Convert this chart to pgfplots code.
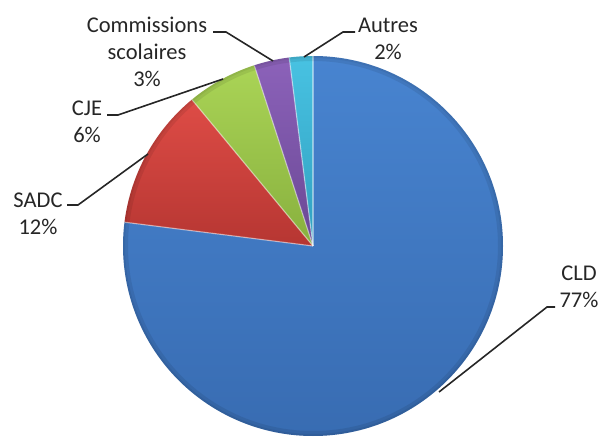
\documentclass[border=0pt]{standalone}
\usepackage{pgfplots}
\pgfplotsset{compat=1.18}
\usepackage{fontspec}
\setmainfont{Carlito}
\definecolor{cldT}{RGB}{72,132,208}
\definecolor{cldB}{RGB}{56,108,178}
\definecolor{sadcT}{RGB}{222,76,70}
\definecolor{sadcB}{RGB}{182,54,50}
\definecolor{cjeT}{RGB}{170,212,86}
\definecolor{cjeB}{RGB}{136,176,62}
\definecolor{comT}{RGB}{140,98,186}
\definecolor{comB}{RGB}{106,72,148}
\definecolor{autT}{RGB}{72,194,226}
\definecolor{autB}{RGB}{48,160,192}
\begin{document}
\begin{tikzpicture}
\begin{axis}[scale only axis, width=603pt, height=437pt,
  xmin=0, xmax=603, ymin=0, ymax=437, hide axis, clip=false]
\path (rel axis cs:0,0) rectangle (rel axis cs:1,1);
% shares (%): CLD 77, SADC 12, CJE 6, Commissions scolaires 3, Autres 2
\shade[top color=cldT, bottom color=cldB] (axis cs:313,191) -- ++(90:190pt) arc[start angle=90, end angle={90-3.6*77}, radius=190pt] -- cycle;
\shade[top color=sadcT, bottom color=sadcB] (axis cs:313,191) -- ++({90-3.6*77}:190pt) arc[start angle={90-3.6*77}, end angle={90-3.6*89}, radius=190pt] -- cycle;
\shade[top color=cjeT, bottom color=cjeB] (axis cs:313,191) -- ++({90-3.6*89}:190pt) arc[start angle={90-3.6*89}, end angle={90-3.6*95}, radius=190pt] -- cycle;
\shade[top color=comT, bottom color=comB] (axis cs:313,191) -- ++({90-3.6*95}:190pt) arc[start angle={90-3.6*95}, end angle={90-3.6*98}, radius=190pt] -- cycle;
\shade[top color=autT, bottom color=autB] (axis cs:313,191) -- ++({90-3.6*98}:190pt) arc[start angle={90-3.6*98}, end angle={90-3.6*100}, radius=190pt] -- cycle;
% slice edges (bevel highlights)
\draw[white, opacity=0.45, line width=1.2pt] (axis cs:313,191) -- ++(90:190pt);
\draw[white, opacity=0.45, line width=1.2pt] (axis cs:313,191) -- ++({90-3.6*77}:190pt);
\draw[white, opacity=0.45, line width=1.2pt] (axis cs:313,191) -- ++({90-3.6*89}:190pt);
\draw[white, opacity=0.45, line width=1.2pt] (axis cs:313,191) -- ++({90-3.6*95}:190pt);
\draw[white, opacity=0.45, line width=1.2pt] (axis cs:313,191) -- ++({90-3.6*98}:190pt);
% rim darkening
\fill[black, opacity=0.08, even odd rule] (axis cs:313,191) circle[radius=190pt] (axis cs:313,191) circle[radius=185pt];
\fill[black, opacity=0.06, even odd rule] (axis cs:313,191) circle[radius=190pt] (axis cs:313,191) circle[radius=188pt];
% leader lines
\draw[line width=1.6pt, black!85] (axis cs:213,405) -- (axis cs:226,405) -- (axis cs:273,376);
\draw[line width=1.6pt, black!85] (axis cs:355,405) -- (axis cs:343,405) -- (axis cs:304,380);
\draw[line width=1.6pt, black!85] (axis cs:107,322) -- (axis cs:118,322) -- (axis cs:223,358);
\draw[line width=1.6pt, black!85] (axis cs:67,232) -- (axis cs:78,232) -- (axis cs:148,283);
\draw[line width=1.6pt, black!85] (axis cs:555,130) -- (axis cs:547,130) -- (axis cs:439,45);
% labels
\tikzset{lab/.style={align=center, text=black!85, font=\fontsize{22.5}{27}\selectfont, inner sep=0pt}}
\node[lab] at (axis cs:147,385) {Commissions\\scolaires\\3\%};
\node[lab] at (axis cs:388,398.5) {Autres\\2\%};
\node[lab] at (axis cs:87,315.5) {CJE\\6\%};
\node[lab] at (axis cs:38,223) {SADC\\12\%};
\node[lab] at (axis cs:579,150.5) {CLD\\77\%};
\end{axis}
\end{tikzpicture}
\end{document}
